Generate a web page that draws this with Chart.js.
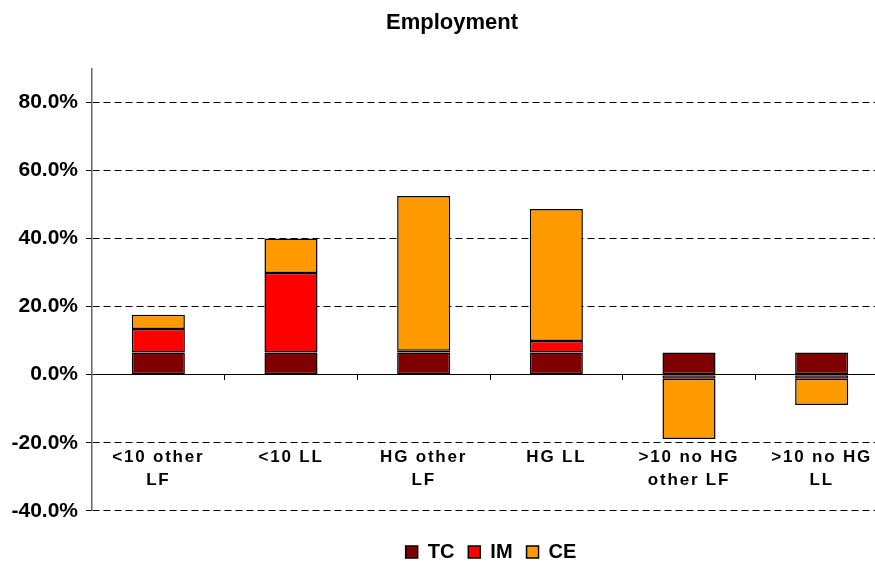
<!DOCTYPE html>
<html lang="en">
<head>
<meta charset="UTF-8" />
<title>Employment</title>
<script src="https://cdn.jsdelivr.net/npm/chart.js"></script>
<style>
  body {
    margin: 0;
    background: #fff;
    font-family: "Liberation Sans", Arial, sans-serif;
  }
</style>
</head>
<body>

<canvas id="empChart" width="875" height="561"></canvas>

<script>
  const categories = [
    ['<10 other', 'LF'],
    ['<10 LL'],
    ['HG other', 'LF'],
    ['HG LL'],
    ['>10 no HG', 'other LF'],
    ['>10 no HG', 'LL']
  ];
  const tcValues = [6.5, 6.5, 6.5, 6.5, 6.5, 6.5];
  const imValues = [6.9, 23.4, 0.5, 3.4, -1.2, -1.2];
  const ceValues = [4.2, 10.1, 45.5, 38.8, -17.7, -7.7];
  const yTicks = [-40, -20, 0, 20, 40, 60, 80];

  const FONT = '"Liberation Sans", Arial, sans-serif';
  const PLOT_RIGHT = 888;   // category axis runs a bit past the canvas edge
  const LABEL_DROP = 62;    // category names sit down below the -20% line

  const plotTweaks = {
    id: 'plotTweaks',
    afterLayout(chart) {
      const xs = chart.scales.x;
      xs.right = PLOT_RIGHT;
      xs.width = xs.right - xs.left;
      xs.configure();

      const lg = chart.legend;
      lg.right = PLOT_RIGHT + 2;
      lg.width = lg.right - lg.left;

      const tb = chart.titleBlock;
      tb.right = 900;
      tb.width = tb.right - tb.left;

      // spaced-out category labels, pushed further down
      if (!xs._spaced) {
        const orig = xs.drawLabels.bind(xs);
        xs.drawLabels = function(area) {
          const ctx = chart.ctx;
          ctx.save();
          ctx.translate(0, LABEL_DROP);
          ctx.letterSpacing = '1.8px';
          orig(area);
          ctx.restore();
        };
        xs._spaced = true;
      }
    }
  };

  const ctx = document.getElementById('empChart').getContext('2d');

  new Chart(ctx, {
    type: 'bar',
    data: {
      labels: categories,
      datasets: [
        { label: 'TC', data: tcValues, backgroundColor: '#800000' },
        { label: 'IM', data: imValues, backgroundColor: '#ff0000' },
        { label: 'CE', data: ceValues, backgroundColor: '#ff9900' }
      ].map(ds => Object.assign(ds, {
        borderColor: '#000',
        borderWidth: 1.5,
        borderSkipped: false,
        categoryPercentage: 0.8,
        barPercentage: 0.5
      }))
    },
    plugins: [plotTweaks],
    options: {
      responsive: false,
      animation: false,
      devicePixelRatio: 1,
      layout: {
        padding: { left: 4, right: 0, top: 0, bottom: -11 }
      },
      scales: {
        x: {
          stacked: true,
          position: { y: 0 },
          border: { display: true, color: '#000', width: 1 },
          grid: {
            offset: true,
            drawOnChartArea: false,
            drawTicks: true,
            tickLength: 5,
            color: '#000'
          },
          ticks: {
            color: '#000',
            padding: 5,
            maxRotation: 0,
            autoSkip: false,
            font: { family: FONT, size: 17, weight: 'bold', lineHeight: 1.3 }
          }
        },
        y: {
          stacked: true,
          min: -40,
          max: 90,
          border: { display: true, color: '#666', width: 1.5, dash: [7, 4] },
          grid: {
            color: '#000',
            lineWidth: 1,
            drawTicks: true,
            tickLength: 6,
            tickColor: '#000',
            tickBorderDash: []
          },
          afterBuildTicks(axis) {
            axis.ticks = yTicks.map(v => ({ value: v }));
          },
          afterFit(axis) {
            axis.width = 88;
          },
          ticks: {
            color: '#000',
            padding: 8,
            font: { family: FONT, size: 21, weight: 'bold' },
            callback: v => v.toFixed(1) + '%'
          }
        }
      },
      plugins: {
        title: {
          display: true,
          text: 'Employment',
          color: '#000',
          font: { family: FONT, size: 22, weight: 'bold' },
          padding: { top: 10, bottom: 32 }
        },
        legend: {
          position: 'bottom',
          fullSize: false,
          title: {
            display: true,
            text: '',
            font: { size: 1 },
            padding: { top: 16, bottom: 0 }
          },
          labels: {
            color: '#000',
            boxWidth: 12,
            boxHeight: 12,
            padding: 14,
            font: { family: FONT, size: 20, weight: 'bold' }
          }
        },
        tooltip: { enabled: false }
      }
    }
  });
</script>

</body>
</html>
